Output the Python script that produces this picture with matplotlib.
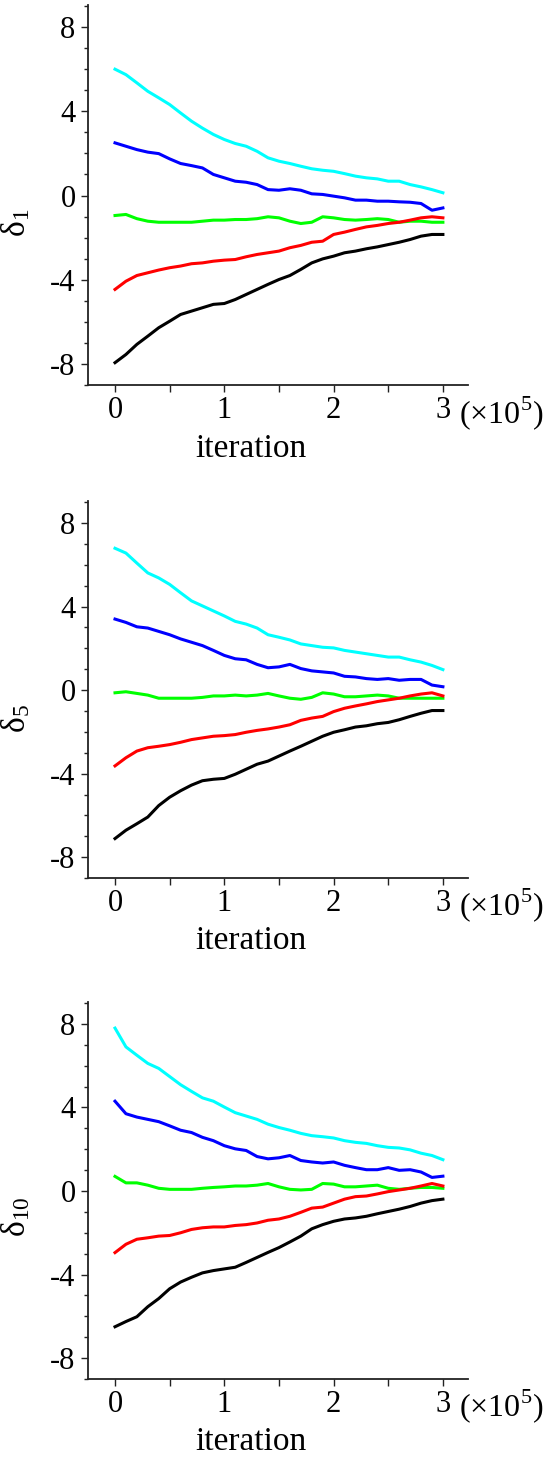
import numpy as np
import matplotlib
matplotlib.use('Agg')
import matplotlib.pyplot as plt
from matplotlib.ticker import MultipleLocator

plt.rcParams['font.family'] = ['Liberation Serif', 'DejaVu Serif']
plt.rcParams['mathtext.fontset'] = 'custom'
plt.rcParams['mathtext.rm'] = 'Liberation Serif'

# ========== data (x in units of 1e5 iterations) ==========
x = [round(0.1 * i, 1) for i in range(31)]

# delta_1
d1_cyan = [6.0, 5.74, 5.35, 4.95, 4.64, 4.32, 3.92, 3.53, 3.2, 2.9, 2.66, 2.47, 2.34, 2.1, 1.79, 1.63,
           1.52, 1.39, 1.27, 1.2, 1.15, 1.04, 0.92, 0.84, 0.79, 0.68, 0.68, 0.52, 0.41, 0.28, 0.13]
d1_blue = [2.5, 2.34, 2.18, 2.06, 1.99, 1.74, 1.52, 1.42, 1.31, 1.0, 0.84, 0.68, 0.63, 0.52, 0.28, 0.25,
           0.32, 0.25, 0.08, 0.05, -0.03, -0.11, -0.22, -0.22, -0.27, -0.27, -0.3, -0.32, -0.38, -0.7, -0.59]
d1_green = [-0.95, -0.9, -1.1, -1.22, -1.27, -1.27, -1.27, -1.27, -1.22, -1.17, -1.17, -1.14, -1.14, -1.1,
            -1.01, -1.06, -1.22, -1.33, -1.27, -1.01, -1.06, -1.14, -1.17, -1.14, -1.1, -1.14, -1.27,
            -1.22, -1.22, -1.27, -1.27]
d1_red = [-4.46, -4.07, -3.8, -3.67, -3.54, -3.43, -3.35, -3.24, -3.2, -3.12, -3.07, -3.04, -2.91, -2.8,
          -2.72, -2.64, -2.48, -2.37, -2.22, -2.17, -1.85, -1.74, -1.61, -1.49, -1.42, -1.33, -1.27, -1.17,
          -1.06, -1.01, -1.06]
d1_black = [-7.94, -7.55, -7.07, -6.68, -6.28, -5.97, -5.65, -5.49, -5.33, -5.17, -5.13, -4.94, -4.7,
            -4.46, -4.22, -3.99, -3.8, -3.51, -3.2, -3.01, -2.88, -2.72, -2.64, -2.53, -2.44, -2.33, -2.22,
            -2.09, -1.93, -1.85, -1.85]

# delta_5
d5_cyan = [6.79, 6.56, 6.08, 5.61, 5.37, 5.06, 4.66, 4.27, 4.03, 3.79, 3.55, 3.29, 3.16, 2.97, 2.65, 2.53,
           2.4, 2.21, 2.13, 2.05, 2.02, 1.9, 1.82, 1.74, 1.66, 1.58, 1.58, 1.45, 1.34, 1.18, 0.98]
d5_blue = [3.4, 3.24, 3.03, 2.97, 2.81, 2.65, 2.45, 2.29, 2.13, 1.9, 1.66, 1.5, 1.45, 1.23, 1.07, 1.11,
           1.23, 1.03, 0.92, 0.87, 0.82, 0.66, 0.63, 0.55, 0.51, 0.55, 0.47, 0.51, 0.51, 0.24, 0.16]
d5_green = [-0.13, -0.08, -0.16, -0.24, -0.39, -0.39, -0.39, -0.39, -0.35, -0.28, -0.28, -0.24, -0.28,
            -0.24, -0.16, -0.28, -0.39, -0.44, -0.35, -0.13, -0.19, -0.32, -0.32, -0.28, -0.24, -0.28,
            -0.39, -0.39, -0.39, -0.39, -0.39]
d5_red = [-3.63, -3.24, -2.92, -2.76, -2.69, -2.61, -2.5, -2.37, -2.29, -2.21, -2.18, -2.13, -2.02, -1.93,
          -1.86, -1.77, -1.66, -1.45, -1.34, -1.26, -1.03, -0.87, -0.76, -0.66, -0.55, -0.47, -0.39, -0.28,
          -0.19, -0.13, -0.28]
d5_black = [-7.11, -6.71, -6.4, -6.08, -5.53, -5.13, -4.82, -4.55, -4.34, -4.27, -4.23, -4.03, -3.79,
            -3.55, -3.4, -3.16, -2.92, -2.69, -2.45, -2.21, -2.02, -1.9, -1.77, -1.71, -1.61, -1.55, -1.42,
            -1.26, -1.11, -0.98, -0.98]

# delta_10
d10_cyan = [7.8, 6.9, 6.5, 6.11, 5.87, 5.48, 5.09, 4.77, 4.46, 4.3, 4.02, 3.75, 3.59, 3.43, 3.2, 3.04,
            2.91, 2.76, 2.65, 2.6, 2.54, 2.41, 2.33, 2.28, 2.17, 2.09, 2.06, 1.97, 1.81, 1.7, 1.5]
d10_blue = [4.3, 3.7, 3.54, 3.43, 3.32, 3.12, 2.91, 2.8, 2.57, 2.41, 2.17, 2.02, 1.94, 1.65, 1.54, 1.59,
            1.7, 1.46, 1.39, 1.34, 1.39, 1.23, 1.12, 1.02, 1.02, 1.12, 0.99, 1.02, 0.91, 0.65, 0.71]
d10_green = [0.7, 0.39, 0.39, 0.28, 0.13, 0.08, 0.08, 0.08, 0.13, 0.17, 0.2, 0.24, 0.24, 0.28, 0.36, 0.2,
             0.08, 0.05, 0.08, 0.36, 0.33, 0.2, 0.2, 0.24, 0.28, 0.13, 0.08, 0.13, 0.17, 0.17, 0.13]
d10_red = [-2.95, -2.55, -2.31, -2.24, -2.16, -2.13, -2.0, -1.84, -1.76, -1.72, -1.72, -1.65, -1.61, -1.53,
           -1.4, -1.34, -1.21, -1.02, -0.82, -0.77, -0.58, -0.39, -0.27, -0.24, -0.14, -0.03, 0.05, 0.13,
           0.24, 0.36, 0.24]
d10_black = [-6.5, -6.25, -6.02, -5.54, -5.15, -4.68, -4.36, -4.13, -3.92, -3.81, -3.73, -3.65, -3.42,
             -3.18, -2.94, -2.71, -2.44, -2.16, -1.81, -1.61, -1.45, -1.34, -1.29, -1.21, -1.09, -0.98,
             -0.87, -0.74, -0.58, -0.46, -0.39]

ylabels = [r'$\mathregular{δ_{1}}$', r'$\mathregular{δ_{5}}$', r'$\mathregular{δ_{10}}$']
xticks = [0, 1, 2, 3]
yticks = [-8, -4, 0, 4, 8]
colors = ['#00ffff', '#0000ff', '#00ff00', '#ff0000', '#000000']
panels = [
    [d1_cyan, d1_blue, d1_green, d1_red, d1_black],
    [d5_cyan, d5_blue, d5_green, d5_red, d5_black],
    [d10_cyan, d10_blue, d10_green, d10_red, d10_black],
]

# axes boxes in figure fraction (left, bottom, width, height)
boxes = [
    [0.1583, 0.7363, 0.6835, 0.2603],
    [0.1583, 0.3986, 0.6835, 0.2582],
    [0.1583, 0.0555, 0.6835, 0.2582],
]
ylab_y = [0.426, 0.424, 0.43]

fig = plt.figure(figsize=(5.56, 14.6), dpi=100)

for k in range(3):
    ax = fig.add_axes(boxes[k])
    for series, c in zip(panels[k], colors):
        ax.plot(x, series, color=c, lw=2.2)

    ax.set_xlim(-0.247, 3.23)
    ax.set_ylim(-9, 9.05)
    ax.set_xticks(xticks)
    ax.set_xticklabels([str(t) for t in xticks])
    ax.xaxis.set_minor_locator(MultipleLocator(0.5))
    ax.set_yticks(yticks)
    ax.set_yticklabels([str(t) for t in yticks])
    ax.yaxis.set_minor_locator(MultipleLocator(1))

    for s in ['top', 'right']:
        ax.spines[s].set_visible(False)
    for s in ['left', 'bottom']:
        ax.spines[s].set_linewidth(1.3)
        ax.spines[s].set_color('#222222')

    ax.tick_params(axis='both', which='major', labelsize=22, width=1.0, length=5, direction='out',
                   color='#222222')
    ax.tick_params(axis='y', which='minor', width=1.0, length=3, direction='out', color='#222222')
    ax.tick_params(axis='x', which='minor', width=1.0, length=5, direction='out', color='#222222')
    ax.tick_params(axis='x', which='major', pad=3)
    ax.tick_params(axis='y', which='major', pad=4)

    ax.set_xlabel('iteration', fontsize=24)
    ax.xaxis.set_label_coords(0.43, -0.127)
    ax.set_ylabel(ylabels[k], fontsize=24)
    ax.yaxis.set_label_coords(-0.147, ylab_y[k])

    ax.text(0.975, -0.073, r'(×10$^{\mathregular{5}}$)', transform=ax.transAxes,
            fontsize=23, ha='left', va='center', clip_on=False)

fig.savefig('out.png', dpi=100)
